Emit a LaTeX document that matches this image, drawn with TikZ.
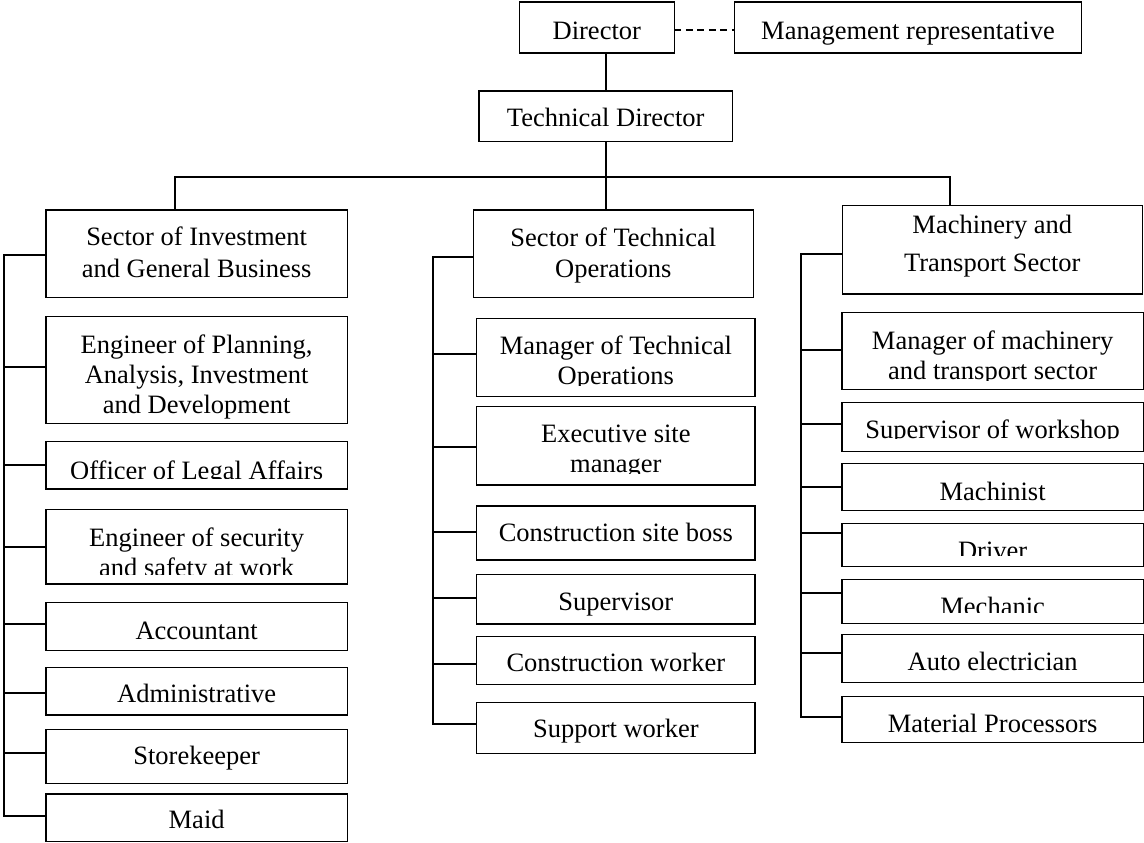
\documentclass[tikz,border=0pt]{standalone}
\usepackage{fontspec}
\setmainfont{Liberation Serif}
\begin{document}
\begin{tikzpicture}[x=1pt,y=-1pt,
  orgframe/.style={draw=black, line width=1.2pt, inner sep=0pt, outer sep=0pt},
  boxtext/.style={inner sep=0pt, align=center, text depth=0pt,
                  font=\fontsize{26.5}{30}\selectfont},
  orgline/.style={draw=black, line width=1.8pt},
  dotline/.style={draw=black, line width=1.8pt, dash pattern=on 7pt off 4.5pt}]

% #1 name, #2-#5 corners (x1,y1,x2,y2), #6 lower edge of the visible text,
% #7 vertical centre of the text, #8 text
\newcommand\orgbox[8]{%
  \begin{scope}
    \clip (#2,#3) rectangle (#4,#6);
    \node[boxtext] (#1-text) at ({(#2+#4)/2},#7) {#8};
  \end{scope}
  \node[orgframe, minimum width={(#4-#2)*1pt}, minimum height={(#5-#3)*1pt}]
    (#1) at ({(#2+#4)/2},{(#3+#5)/2}) {};
}
% branch from a vertical bus to a box at height #3
\newcommand\tie[3]{\draw[orgline] (#1 |- 0,#3) -- (#2.west |- 0,#3);}

\useasboundingbox (0,0) rectangle (1144,843);

% top of the chart
\orgbox{dir}{519.3}{2}{674.3}{53}{53}{30.3}{Director}
\orgbox{mr}{734.3}{2}{1081.7}{53}{53}{30.8}{Management representative}
\orgbox{td}{479}{91}{732.3}{141.7}{141.7}{117.5}{Technical Director}

% the three sectors
\orgbox{s1}{46}{210}{347.3}{297.7}{297.7}{252.5}{Sector of Investment\\[1.7pt]and General Business}
\orgbox{s2}{473.3}{210}{753.3}{297.7}{297.7}{252.8}{Sector of Technical\\[1.7pt]Operations}
\orgbox{s3}{842.3}{205.7}{1142.3}{294}{294}{243.3}{Machinery and\\[7.7pt]Transport Sector}

% investment and general business staff
\orgbox{p1}{46}{316.7}{347.3}{423.3}{420.7}{374.2}{Engineer of Planning,\\Analysis, Investment\\and Development}
\orgbox{p2}{46}{441.7}{347.3}{489}{478.3}{470}{Officer of Legal Affairs}
\orgbox{p3}{46}{509.3}{347.3}{584}{574}{551.7}{Engineer of security\\and safety at work}
\orgbox{p4}{46}{602.7}{347.3}{650.7}{650.7}{631.2}{Accountant}
\orgbox{p5}{46}{667.3}{347.3}{715}{715}{693.8}{Administrative}
\orgbox{p6}{46}{729.3}{347.3}{783.3}{783.3}{755.8}{Storekeeper}
\orgbox{p7}{46}{794}{347.3}{841.7}{841.7}{819.2}{Maid}

% technical operations staff
\orgbox{t1}{476.7}{318.3}{755}{396.7}{385}{359.7}{Manager of Technical\\Operations}
\orgbox{t2}{476.7}{406.7}{755}{485}{473.3}{448.3}{Executive site\\manager}
\orgbox{t3}{476.7}{506}{755}{560}{560}{532.8}{Construction site boss}
\orgbox{t4}{476.7}{574.3}{755}{624}{624}{601.3}{Supervisor}
\orgbox{t5}{476.7}{636.7}{755}{684.3}{684.3}{662.8}{Construction worker}
\orgbox{t6}{476.7}{702.3}{755}{753.3}{753.3}{728.8}{Support worker}

% machinery and transport staff
\orgbox{m1}{842}{312.7}{1143.3}{389.3}{380}{355.5}{Manager of machinery\\and transport sector}
\orgbox{m2}{842}{402.7}{1143.3}{451.7}{438.3}{428.7}{Supervisor of workshop}
\orgbox{m3}{842}{463.3}{1143.3}{510.7}{510.7}{491}{Machinist}
\orgbox{m4}{842}{523.3}{1143.3}{566.7}{555}{551}{Driver}
\orgbox{m5}{842}{579.3}{1143.3}{623.3}{612.3}{606}{Mechanic}
\orgbox{m6}{842}{634.3}{1143.3}{682.3}{682.3}{661.7}{Auto electrician}
\orgbox{m7}{842}{696.7}{1143.3}{742.3}{742.3}{723.3}{Material Processors}

% reference lines of the connectors
\coordinate (spine) at (605.7,0);
\coordinate (d1) at (175,176.7);
\coordinate (d3) at (950,176.7);
\coordinate (bus1) at (4,0);
\coordinate (bus2) at (433.3,0);
\coordinate (bus3) at (801,0);

% upper connectors
\draw[dotline] (dir.east |- 0,29.7) -- (mr.west |- 0,29.7);
\draw[orgline] (dir.south -| spine) -- (td.north -| spine);
\draw[orgline] (td.south -| spine) -- (s2.north -| spine);
\draw[orgline] (s1.north -| d1) -- (d1) -- (d3) -- (s3.north -| d3);

% sector buses
\draw[orgline] (s1.west |- 0,255) -- (bus1 |- 0,255) -- (bus1 |- 0,815.7) -- (p7.west |- 0,815.7);
\tie{bus1}{p1}{366.7}
\tie{bus1}{p2}{465}
\tie{bus1}{p3}{546.7}
\tie{bus1}{p4}{624.3}
\tie{bus1}{p5}{692.7}
\tie{bus1}{p6}{753}

\draw[orgline] (s2.west |- 0,256.7) -- (bus2 |- 0,256.7) -- (bus2 |- 0,724) -- (t6.west |- 0,724);
\tie{bus2}{t1}{354}
\tie{bus2}{t2}{446.7}
\tie{bus2}{t3}{532.3}
\tie{bus2}{t4}{598.3}
\tie{bus2}{t5}{664}

\draw[orgline] (s3.west |- 0,254.3) -- (bus3 |- 0,254.3) -- (bus3 |- 0,717.3) -- (m7.west |- 0,717.3);
\tie{bus3}{m1}{350}
\tie{bus3}{m2}{424.3}
\tie{bus3}{m3}{486.7}
\tie{bus3}{m4}{533.3}
\tie{bus3}{m5}{593.3}
\tie{bus3}{m6}{652.7}

\end{tikzpicture}
\end{document}
